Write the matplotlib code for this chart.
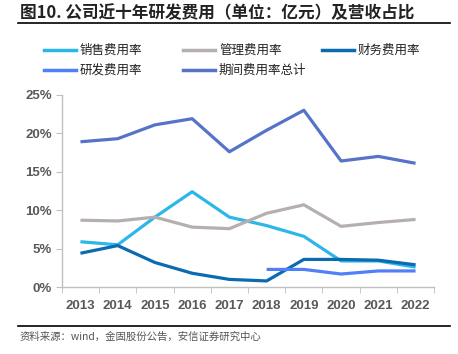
import matplotlib
matplotlib.use("Agg")
import matplotlib.pyplot as plt
import numpy as np
from matplotlib.lines import Line2D

plt.rcParams['font.family'] = ['Noto Sans CJK SC', 'DejaVu Sans']

# data
years = ['2013', '2014', '2015', '2016', '2017', '2018', '2019', '2020', '2021', '2022']
sales = [5.9, 5.5, 9.1, 12.4, 9.1, 8.0, 6.6, 3.4, 3.4, 2.6]
admin = [8.7, 8.6, 9.1, 7.8, 7.6, 9.6, 10.7, 7.9, 8.4, 8.8]
finance = [4.4, 5.4, 3.2, 1.8, 1.0, 0.8, 3.6, 3.6, 3.5, 2.9]
rnd = [np.nan, np.nan, np.nan, np.nan, np.nan, 2.3, 2.3, 1.7, 2.1, 2.1]
total = [18.9, 19.3, 21.1, 21.9, 17.6, 20.4, 23.0, 16.4, 17.0, 16.1]

names = ['销售费用率', '管理费用率', '财务费用率', '研发费用率', '期间费用率总计']
colors = ['#2DB7E8', '#B5AFAF', '#0B6BB0', '#4F80F7', '#5673C8']
series = [sales, admin, finance, rnd, total]

W, H = 458, 354
fig = plt.figure(figsize=(W / 100, H / 100), dpi=100)
ax = fig.add_axes([0.135, 0.189, 0.813, 0.543])

x = np.arange(len(years))
for s, c in zip(series, colors):
    ax.plot(x, s, color=c, lw=2.3, solid_capstyle='butt')

ax.set_xlim(-0.5, len(years) - 0.5)
ax.set_ylim(0, 25)
ax.set_yticks([0, 5, 10, 15, 20, 25])
ax.set_yticklabels([f'{v}%' for v in [0, 5, 10, 15, 20, 25]])
ax.set_xticks(x)
ax.set_xticklabels(years)
ax.set_xticks(np.arange(-0.5, len(years)), minor=True)
ax.tick_params(axis='x', which='major', length=0, pad=9)
ax.tick_params(axis='x', which='minor', length=4, color='#BFBFBF', direction='out')
ax.tick_params(axis='y', length=4, color='#BFBFBF', direction='out', pad=3)
for lab in ax.get_xticklabels() + ax.get_yticklabels():
    lab.set_family(['Liberation Sans', 'DejaVu Sans'])
    lab.set_fontweight('bold')
    lab.set_color('#595959')
    lab.set_fontsize(9.5)

for sp in ['top', 'right']:
    ax.spines[sp].set_visible(False)
for sp in ['left', 'bottom']:
    ax.spines[sp].set_color('#BFBFBF')
    ax.spines[sp].set_linewidth(1)

# legend laid out on a fixed grid, 3 per row
for i, (name, c) in enumerate(zip(names, colors)):
    col, row = i % 3, i // 3
    x0 = 44 + col * 139
    yy = 1 - (50 + row * 20) / H
    fig.add_artist(Line2D([x0 / W, (x0 + 32) / W], [yy, yy], color=c, lw=2.5))
    fig.text((x0 + 36) / W, yy, name, fontsize=9, color='#222222', va='center')

# title and source
fig.text(0.043, 0.963, '图10. 公司近十年研发费用（单位：亿元）及营收占比',
         fontsize=12, fontweight='bold', color='#222222', va='center')
fig.add_artist(Line2D([0.04, 0.983], [0.935, 0.935], color='black', lw=1.2))
fig.add_artist(Line2D([0.04, 0.983], [0.079, 0.079], color='black', lw=1.2))
fig.text(0.043, 0.05, '资料来源：wind，金固股份公告，安信证券研究中心',
         fontsize=7.5, color='#555555', va='center', style='italic')

fig.savefig('out.png', dpi=100)
